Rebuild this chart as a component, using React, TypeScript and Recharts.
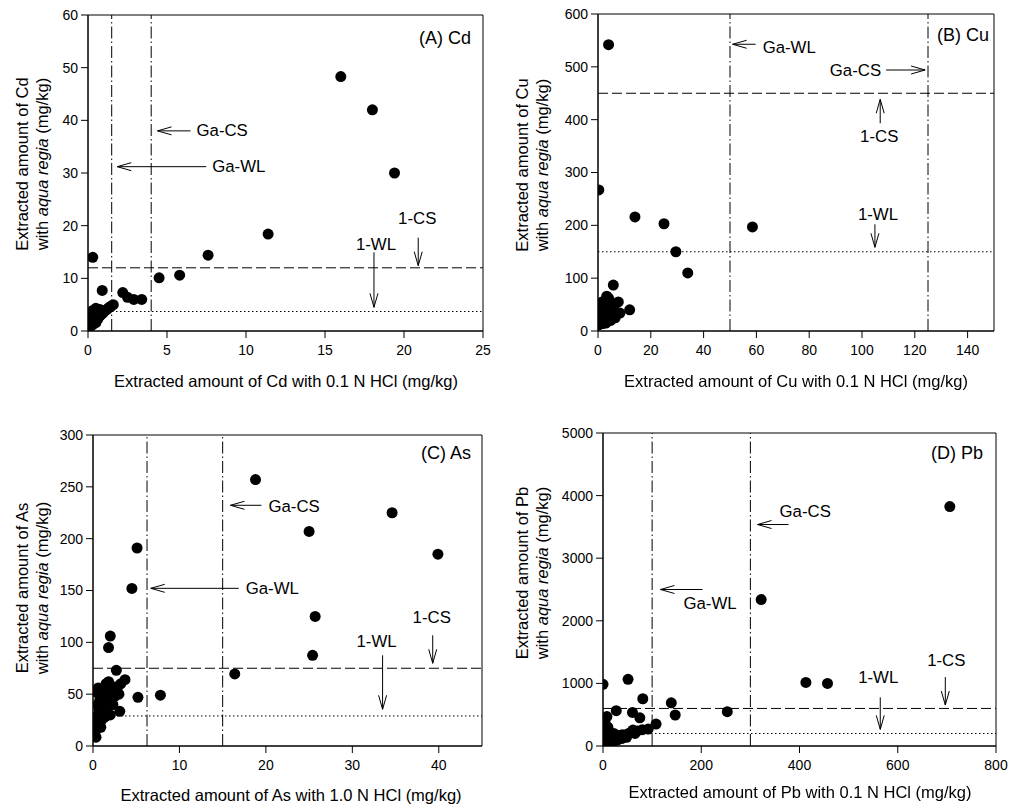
import React from "react";
import {
  ReferenceArea,
  ReferenceDot,
  ReferenceLine,
  Scatter,
  ScatterChart,
  XAxis,
  YAxis,
} from "recharts";

const FONT = "'Liberation Sans', Arial, sans-serif";

// [extracted with HCl, extracted with aqua regia] in mg/kg
const cdPoints: [number, number][] = [
  [0.05, 1.0], [0.1, 1.4], [0.15, 0.9], [0.2, 1.8], [0.25, 2.3], [0.3, 1.2],
  [0.35, 2.8], [0.4, 3.4], [0.45, 4.0], [0.5, 4.3], [0.55, 3.1], [0.6, 2.2],
  [0.65, 3.7], [0.7, 2.7], [0.8, 3.0], [0.9, 3.3], [1.0, 3.6], [1.1, 3.9],
  [1.2, 4.1], [1.3, 4.4], [1.45, 4.7], [1.6, 5.0], [0.3, 3.9], [0.2, 3.2],
  [0.5, 1.6], [0.75, 4.1], [0.1, 2.5], [0.4, 2.0],
  [0.3, 14], [0.9, 7.7], [2.2, 7.3], [2.5, 6.4], [2.9, 6.0], [3.4, 6.0],
  [4.5, 10.1], [5.8, 10.6], [7.6, 14.4], [11.4, 18.4], [16, 48.3], [18, 42], [19.4, 30],
];

const cuPoints: [number, number][] = [
  [0.5, 12], [1, 18], [1.5, 25], [2, 30], [0.8, 35], [1.2, 45], [2.5, 50], [3, 60],
  [3.3, 66], [4, 62], [4.5, 55], [5, 48], [6, 42], [7.7, 55], [8.3, 34], [2.2, 20],
  [3.5, 28], [4.2, 35], [5.5, 30], [6.5, 25], [1.8, 14], [3, 15], [4.8, 20], [0.3, 22],
  [2.8, 40], [1.5, 55], [0.6, 50],
  [4, 542], [0.3, 267], [14, 216], [25, 203], [58.5, 197], [29.5, 150], [34, 110],
  [5.8, 87], [12, 40],
];

const asPoints: [number, number][] = [
  [0.3, 15], [0.4, 20], [0.5, 25], [0.6, 30], [0.7, 35], [0.5, 40], [0.8, 45], [1.0, 50],
  [1.2, 55], [0.6, 56], [1.5, 60], [1.8, 62], [2.0, 58], [2.2, 52], [2.5, 48], [2.8, 53],
  [3.0, 50], [1.3, 44], [1.6, 38], [2.0, 30], [1.0, 25], [1.4, 28], [2.3, 40], [0.9, 18],
  [1.7, 46], [2.6, 57], [1.1, 35], [0.4, 52], [1.9, 55], [3.2, 60],
  [18.8, 257], [34.6, 225], [25, 207], [39.9, 185], [25.7, 125], [25.4, 87.5],
  [16.4, 69.5], [5.1, 191], [4.5, 152], [2.0, 106], [1.8, 95], [2.7, 73], [3.7, 64],
  [5.2, 47], [7.8, 49], [3.1, 33.5], [0.35, 8.5],
];

const pbPoints: [number, number][] = [
  [2, 30], [5, 60], [8, 100], [3, 150], [6, 200], [10, 250], [15, 80], [20, 120],
  [25, 140], [30, 160], [35, 170], [40, 180], [45, 160], [50, 190], [55, 210], [60, 230],
  [65, 200], [70, 240], [80, 260], [12, 40], [18, 60], [4, 380], [14, 180], [22, 200],
  [28, 90], [38, 120], [48, 140], [10, 300],
  [706, 3825], [322, 2340], [413, 1016], [457, 1000], [253, 548], [139, 690], [147, 495],
  [0, 985], [51, 1065], [81, 755], [27, 565], [60, 537], [75, 450], [8, 470], [108, 350],
  [92, 270], [61, 255], [3, 320],
];

// guideline values: [Ga-WL, Ga-CS, 1-CS, 1-WL]
const cdLimits = [1.5, 4, 12, 3.7];
const cuLimits = [50, 125, 450, 150];
const asLimits = [6.25, 15, 75, 29];
const pbLimits = [100, 300, 600, 200];

const cdXTicks = [0, 5, 10, 15, 20, 25];
const cdYTicks = [0, 10, 20, 30, 40, 50, 60];
const cuXTicks = [0, 20, 40, 60, 80, 100, 120, 140];
const cuYTicks = [0, 100, 200, 300, 400, 500, 600];
const asXTicks = [0, 10, 20, 30, 40];
const asYTicks = [0, 50, 100, 150, 200, 250, 300];
const pbXTicks = [0, 200, 400, 600, 800];
const pbYTicks = [0, 1000, 2000, 3000, 4000, 5000];

type Dir = "left" | "right" | "up" | "down";
type Annot = {
  x: number;
  y: number;
  dir: Dir;
  len: number;
  text: string;
  tx: number;
  ty: number;
  anchor: "start" | "middle" | "end";
};

type Panel = {
  name: string;
  points: [number, number][];
  xMax: number;
  yMax: number;
  xTicks: number[];
  yTicks: number[];
  limits: number[];
  plot: { l: number; t: number; r: number; b: number };
  annots: Annot[];
  titleDx: number;
  titleDy: number;
  xLabel: string;
  xLabelAt: [number, number];
  yLabelAt: [number, number];
};

const panels: Panel[] = [
  {
    name: "(A) Cd",
    points: cdPoints,
    xMax: 25,
    yMax: 60,
    xTicks: cdXTicks,
    yTicks: cdYTicks,
    limits: cdLimits,
    plot: { l: 88, t: 15, r: 483, b: 331 },
    annots: [
      { x: 4.4, y: 38, dir: "left", len: 33, text: "Ga-CS", tx: 39, ty: 0, anchor: "start" },
      { x: 1.85, y: 31.2, dir: "left", len: 89, text: "Ga-WL", tx: 95, ty: 0, anchor: "start" },
      { x: 20.9, y: 12.4, dir: "down", len: 28, text: "1-CS", tx: -1, ty: -47, anchor: "middle" },
      { x: 18.1, y: 4.5, dir: "down", len: 55, text: "1-WL", tx: 2, ty: -63, anchor: "middle" },
    ],
    titleDx: -12,
    titleDy: 23,
    xLabel: "Extracted amount of Cd with 0.1 N HCl (mg/kg)",
    xLabelAt: [286, 381],
    yLabelAt: [32, 164],
  },
  {
    name: "(B) Cu",
    points: cuPoints,
    xMax: 150,
    yMax: 600,
    xTicks: cuXTicks,
    yTicks: cuYTicks,
    limits: cuLimits,
    plot: { l: 598, t: 14, r: 994, b: 331 },
    annots: [
      { x: 51, y: 542.7, dir: "left", len: 23, text: "Ga-WL", tx: 30, ty: 3, anchor: "start" },
      { x: 123.9, y: 494, dir: "right", len: 39, text: "Ga-CS", tx: -44, ty: 0, anchor: "end" },
      { x: 106.9, y: 438.6, dir: "up", len: 24, text: "1-CS", tx: -1, ty: 37, anchor: "middle" },
      { x: 104.9, y: 158.4, dir: "down", len: 23, text: "1-WL", tx: 3, ty: -33, anchor: "middle" },
    ],
    titleDx: -5,
    titleDy: 21,
    xLabel: "Extracted amount of Cu with 0.1 N HCl (mg/kg)",
    xLabelAt: [796, 381],
    yLabelAt: [532, 165],
  },
  {
    name: "(C) As",
    points: asPoints,
    xMax: 45,
    yMax: 300,
    xTicks: asXTicks,
    yTicks: asYTicks,
    limits: asLimits,
    plot: { l: 93, t: 435, r: 482, b: 746 },
    annots: [
      { x: 15.9, y: 232.2, dir: "left", len: 31, text: "Ga-CS", tx: 38, ty: 1, anchor: "start" },
      { x: 6.68, y: 152.1, dir: "left", len: 88, text: "Ga-WL", tx: 95, ty: 0, anchor: "start" },
      { x: 39.3, y: 79.8, dir: "down", len: 28, text: "1-CS", tx: -1, ty: -46, anchor: "middle" },
      { x: 33.5, y: 35.4, dir: "down", len: 54, text: "1-WL", tx: -6, ty: -68, anchor: "middle" },
    ],
    titleDx: -11,
    titleDy: 18,
    xLabel: "Extracted amount of As with 1.0 N HCl (mg/kg)",
    xLabelAt: [291, 795],
    yLabelAt: [32, 588],
  },
  {
    name: "(D) Pb",
    points: pbPoints,
    xMax: 800,
    yMax: 5000,
    xTicks: pbXTicks,
    yTicks: pbYTicks,
    limits: pbLimits,
    plot: { l: 603, t: 433, r: 996, b: 746 },
    annots: [
      { x: 314.6, y: 3538, dir: "left", len: 31, text: "Ga-CS", tx: 22, ty: -13, anchor: "start" },
      { x: 117, y: 2500, dir: "left", len: 42, text: "Ga-WL", tx: 23, ty: 14, anchor: "start" },
      { x: 696.8, y: 654, dir: "down", len: 28, text: "1-CS", tx: 1, ty: -45, anchor: "middle" },
      { x: 564.4, y: 266, dir: "down", len: 32, text: "1-WL", tx: -2, ty: -52, anchor: "middle" },
    ],
    titleDx: -13,
    titleDy: 20,
    xLabel: "Extracted amount of Pb with 0.1 N HCl (mg/kg)",
    xLabelAt: [800, 792],
    yLabelAt: [532, 573],
  },
];

function renderAnnot(props: any, a: Annot) {
  const { cx, cy } = props;
  const v: Record<Dir, [number, number]> = {
    left: [1, 0],
    right: [-1, 0],
    up: [0, 1],
    down: [0, -1],
  };
  const [ux, uy] = v[a.dir];
  const hx = ux * 14;
  const hy = uy * 14;
  const px = -uy * 4;
  const py = ux * 4;
  return (
    <g>
      <line x1={cx} y1={cy} x2={cx + ux * a.len} y2={cy + uy * a.len} stroke="#000" strokeWidth={1} />
      <polyline
        points={`${cx + hx + px},${cy + hy + py} ${cx},${cy} ${cx + hx - px},${cy + hy - py}`}
        fill="none"
        stroke="#000"
        strokeWidth={1}
      />
      <text
        x={cx + a.tx}
        y={cy + a.ty}
        textAnchor={a.anchor}
        dominantBaseline="central"
        fontSize={16.8}
        fontFamily={FONT}
        fill="#000"
      >
        {a.text}
      </text>
    </g>
  );
}

function renderTitle(props: any, p: Panel) {
  const { cx, cy } = props;
  return (
    <text
      x={cx + p.titleDx}
      y={cy + p.titleDy}
      textAnchor="end"
      dominantBaseline="central"
      fontSize={18}
      fontFamily={FONT}
      fill="#000"
    >
      {p.name}
    </text>
  );
}

function PanelChart({ p }: { p: Panel }) {
  const data = p.points.map(([x, y]) => ({ x, y }));
  const [gaWL, gaCS, oneCS, oneWL] = p.limits;
  const width = p.plot.r - p.plot.l + 100;
  const height = p.plot.b - p.plot.t + 50;
  const tick = { fill: "#000", fontSize: 14, fontFamily: FONT };
  return (
    <div style={{ position: "absolute", left: p.plot.l - 80, top: p.plot.t - 10 }}>
      <ScatterChart width={width} height={height} margin={{ top: 10, right: 20, bottom: 10, left: 30 }}>
        <XAxis
          type="number"
          dataKey="x"
          domain={[0, p.xMax]}
          ticks={p.xTicks}
          allowDataOverflow
          height={30}
          tickSize={7}
          tickMargin={7}
          tick={tick}
          stroke="#000"
        />
        <YAxis
          type="number"
          dataKey="y"
          domain={[0, p.yMax]}
          ticks={p.yTicks}
          allowDataOverflow
          width={50}
          tickSize={7}
          tickMargin={3}
          tick={tick}
          stroke="#000"
        />
        <ReferenceArea x1={0} x2={p.xMax} y1={0} y2={p.yMax} fill="none" stroke="#000" strokeWidth={1} />
        <ReferenceLine x={gaWL} stroke="#000" strokeWidth={1} strokeDasharray="12 3 1.5 3" />
        <ReferenceLine x={gaCS} stroke="#000" strokeWidth={1} strokeDasharray="12 3 1.5 3" />
        <ReferenceLine y={oneCS} stroke="#000" strokeWidth={1} strokeDasharray="10 4" />
        <ReferenceLine y={oneWL} stroke="#000" strokeWidth={1} strokeDasharray="1.5 2.5" />
        <Scatter
          data={data}
          isAnimationActive={false}
          shape={(s: any) => <circle cx={s.cx} cy={s.cy} r={5.5} fill="#000" />}
        />
        {p.annots.map((a) => (
          <ReferenceDot
            key={a.text}
            x={a.x}
            y={a.y}
            r={0}
            shape={(s: any) => renderAnnot(s, a)}
          />
        ))}
        <ReferenceDot x={p.xMax} y={p.yMax} r={0} ifOverflow="visible" shape={(s: any) => renderTitle(s, p)} />
      </ScatterChart>
    </div>
  );
}

function AxisLabels({ p }: { p: Panel }) {
  const element = p.name.split(" ")[1];
  return (
    <>
      <div
        style={{
          position: "absolute",
          left: p.xLabelAt[0] - 250,
          top: p.xLabelAt[1] - 10,
          width: 500,
          lineHeight: "20px",
          textAlign: "center",
          fontSize: 16.5,
          fontFamily: FONT,
          color: "#000",
          whiteSpace: "nowrap",
        }}
      >
        {p.xLabel}
      </div>
      <div
        style={{
          position: "absolute",
          left: p.yLabelAt[0] - 160,
          top: p.yLabelAt[1] - 20,
          width: 320,
          height: 40,
          lineHeight: "20px",
          textAlign: "center",
          fontSize: 16.5,
          fontFamily: FONT,
          color: "#000",
          whiteSpace: "nowrap",
          transform: "rotate(-90deg)",
        }}
      >
        <div>Extracted amount of {element}</div>
        <div>
          with <i>aqua regia</i> (mg/kg)
        </div>
      </div>
    </>
  );
}

export default function App() {
  return (
    <div style={{ position: "fixed", left: 0, top: 0, width: 1028, height: 810, background: "#fff" }}>
      {panels.map((p) => (
        <React.Fragment key={p.name}>
          <PanelChart p={p} />
          <AxisLabels p={p} />
        </React.Fragment>
      ))}
    </div>
  );
}
